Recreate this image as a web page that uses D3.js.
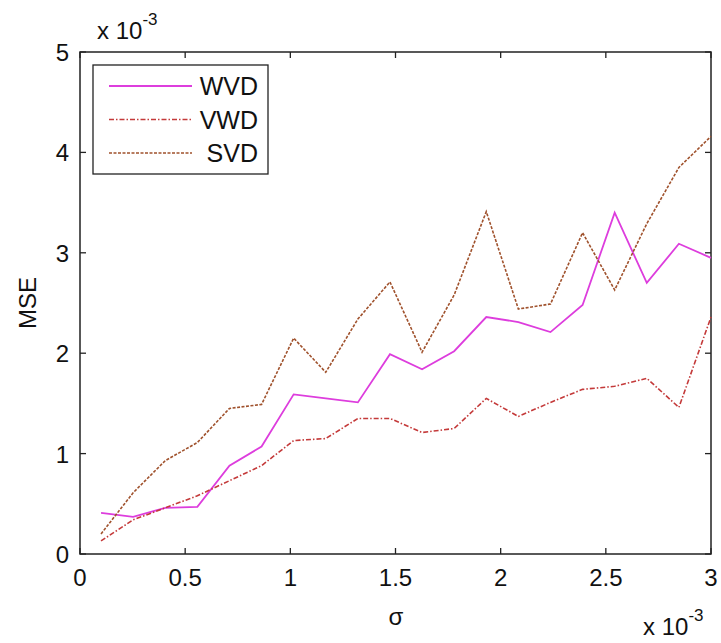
<!DOCTYPE html>
<html>
<head>
<meta charset="utf-8">
<script src="https://cdn.jsdelivr.net/npm/d3@7"></script>
<style>
  body { margin: 0; background: #fff; }
  svg { font-family: "Liberation Sans", Arial, sans-serif; }
</style>
</head>
<body>
<svg id="chart" width="721" height="643"></svg>
<script>
// sigma values (x 10^-3)
const sigma = [0.1, 0.2526, 0.4053, 0.5579, 0.7105, 0.8632, 1.0158, 1.1684, 1.3211, 1.4737,
               1.6263, 1.7789, 1.9316, 2.0842, 2.2368, 2.3895, 2.5421, 2.6947, 2.8474, 3.0];
// MSE values (x 10^-3)
const wvd = [0.41, 0.37, 0.46, 0.47, 0.88, 1.07, 1.59, 1.55, 1.51, 1.99,
             1.84, 2.02, 2.36, 2.31, 2.21, 2.48, 3.40, 2.70, 3.09, 2.95];
const vwd = [0.13, 0.34, 0.46, 0.58, 0.73, 0.88, 1.13, 1.15, 1.35, 1.35,
             1.21, 1.25, 1.55, 1.37, 1.51, 1.64, 1.67, 1.75, 1.46, 2.36];
const svd = [0.20, 0.61, 0.93, 1.11, 1.45, 1.49, 2.15, 1.81, 2.34, 2.71,
             2.01, 2.58, 3.41, 2.44, 2.49, 3.20, 2.63, 3.29, 3.85, 4.16];
const xTicks = [0, 0.5, 1, 1.5, 2, 2.5, 3];
const yTicks = [0, 1, 2, 3, 4, 5];

const series = [
  { name: "WVD", values: wvd, color: "#dd3ddd", dash: null, width: 1.8 },
  { name: "VWD", values: vwd, color: "#c43a3a", dash: "5,2,1.5,2", width: 1.6 },
  { name: "SVD", values: svd, color: "#a0522d", dash: "3,1.5", width: 1.6 }
];

const svg = d3.select("#chart");
const plotL = 80, plotR = 711, plotT = 52, plotB = 554;

const x = d3.scaleLinear().domain([0, 3]).range([plotL, plotR]);
const y = d3.scaleLinear().domain([0, 5]).range([plotB, plotT]);

const axisColor = "#222";

// plot box
svg.append("rect")
  .attr("x", plotL).attr("y", plotT)
  .attr("width", plotR - plotL).attr("height", plotB - plotT)
  .attr("fill", "none").attr("stroke", axisColor).attr("stroke-width", 1.5);

// tick marks (inward, all four sides)
const tickLen = 6;
const tickG = svg.append("g").attr("stroke", axisColor).attr("stroke-width", 1.3);
xTicks.forEach(t => {
  tickG.append("line").attr("x1", x(t)).attr("x2", x(t)).attr("y1", plotB).attr("y2", plotB - tickLen);
  tickG.append("line").attr("x1", x(t)).attr("x2", x(t)).attr("y1", plotT).attr("y2", plotT + tickLen);
});
yTicks.forEach(t => {
  tickG.append("line").attr("x1", plotL).attr("x2", plotL + tickLen).attr("y1", y(t)).attr("y2", y(t));
  tickG.append("line").attr("x1", plotR).attr("x2", plotR - tickLen).attr("y1", y(t)).attr("y2", y(t));
});

// tick labels
svg.append("g").selectAll("text")
  .data(xTicks)
  .join("text")
  .attr("x", d => x(d))
  .attr("y", plotB + 32)
  .attr("text-anchor", "middle")
  .attr("font-size", "24px")
  .attr("fill", "#111")
  .text(d => d);

svg.append("g").selectAll("text")
  .data(yTicks)
  .join("text")
  .attr("x", plotL - 11)
  .attr("y", d => y(d) + 9)
  .attr("text-anchor", "end")
  .attr("font-size", "24px")
  .attr("fill", "#111")
  .text(d => d);

// lines
const line = d3.line()
  .x((d, i) => x(sigma[i]))
  .y(d => y(d));

series.forEach(s => {
  svg.append("path")
    .datum(s.values)
    .attr("d", line)
    .attr("fill", "none")
    .attr("stroke", s.color)
    .attr("stroke-width", s.width)
    .attr("stroke-dasharray", s.dash);
});

// legend
const legend = svg.append("g");
legend.append("rect")
  .attr("x", 93).attr("y", 65)
  .attr("width", 175).attr("height", 109)
  .attr("fill", "#fff").attr("stroke", axisColor).attr("stroke-width", 1.3);

series.forEach((s, i) => {
  const ly = 86 + i * 33.5;
  legend.append("line")
    .attr("x1", 109).attr("x2", 192)
    .attr("y1", ly).attr("y2", ly)
    .attr("stroke", s.color)
    .attr("stroke-width", s.width)
    .attr("stroke-dasharray", s.dash);
  legend.append("text")
    .attr("x", 258).attr("y", ly + 9)
    .attr("text-anchor", "end")
    .attr("font-size", "25px")
    .attr("fill", "#111")
    .text(s.name);
});

// axis labels
svg.append("text")
  .attr("x", 396).attr("y", 625)
  .attr("text-anchor", "middle")
  .attr("font-size", "24px")
  .attr("fill", "#111")
  .text("σ");

svg.append("text")
  .attr("transform", "translate(36,303) rotate(-90)")
  .attr("text-anchor", "middle")
  .attr("font-size", "24px")
  .attr("fill", "#111")
  .text("MSE");

// exponent labels
function expLabel(tx, ty) {
  const t = svg.append("text")
    .attr("x", tx).attr("y", ty)
    .attr("font-size", "24px")
    .attr("fill", "#111");
  t.append("tspan").text("x 10");
  t.append("tspan").attr("dy", -14).attr("font-size", "17px").text("-3");
}
expLabel(97, 39);
expLabel(643, 635);
</script>
</body>
</html>
